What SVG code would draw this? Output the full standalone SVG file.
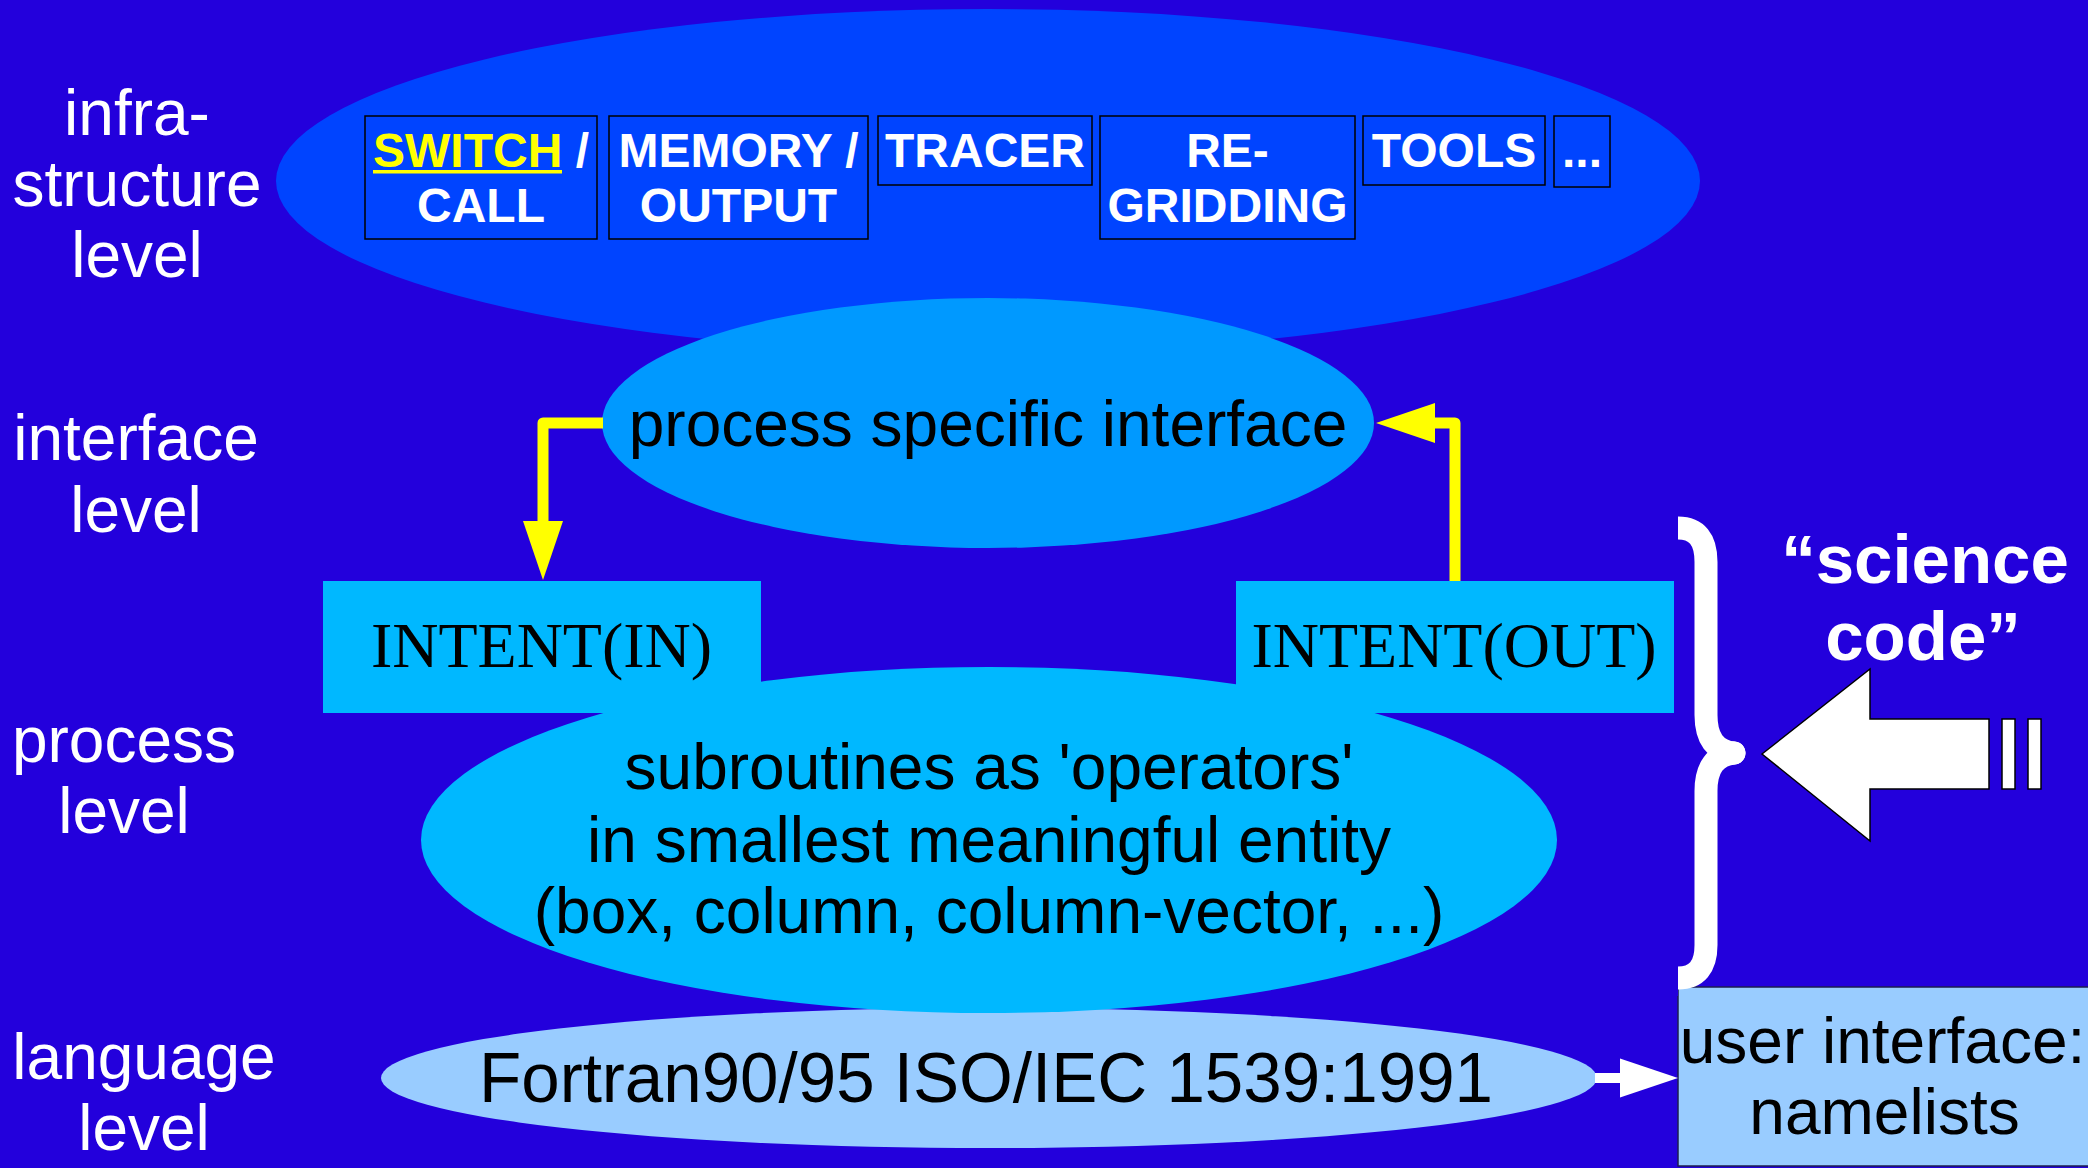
<svg xmlns="http://www.w3.org/2000/svg" width="2088" height="1168" viewBox="0 0 2088 1168">
  <defs>
    <style>
      .lbl { font-family: "Liberation Sans", Arial, sans-serif; font-size: 64px; fill: #ffffff; text-anchor: middle; }
      .big { font-size: 69px; font-weight: bold; }
      .tool { font-family: "Liberation Sans", Arial, sans-serif; font-size: 48px; font-weight: bold; fill: #ffffff; text-anchor: middle; }
      .toolbox { fill: #0044ff; stroke: #000000; stroke-width: 1.5; }
      .body { font-family: "Liberation Sans", Arial, sans-serif; font-size: 64px; fill: #000000; text-anchor: middle; }
      .lang { font-size: 70px; }
      .intent { font-family: "Liberation Serif", "Times New Roman", serif; font-size: 64px; fill: #000000; text-anchor: middle; }
      .ybar { fill: none; stroke: #ffff00; stroke-width: 11; stroke-linejoin: round; }
      .wbar { fill: none; stroke: #ffffff; stroke-width: 10; }
    </style>
    <marker id="yhead" markerUnits="userSpaceOnUse" markerWidth="60" markerHeight="40" refX="0" refY="20" orient="auto" overflow="visible">
      <path d="M0,0 L59,20 L0,40 Z" fill="#ffff00"/>
    </marker>
    <marker id="whead" markerUnits="userSpaceOnUse" markerWidth="60" markerHeight="40" refX="0" refY="19.5" orient="auto" overflow="visible">
      <path d="M0,0 L58,19.5 L0,39 Z" fill="#ffffff"/>
    </marker>
  </defs>

  <!-- background -->
  <rect x="0" y="0" width="2088" height="1168" fill="#2300dc"/>

  <!-- level captions on the left -->
  <g id="level-labels">
    <text class="lbl" x="137" y="135">infra-</text>
    <text class="lbl" x="137" y="206">structure</text>
    <text class="lbl" x="137" y="277">level</text>
    <text class="lbl" x="136" y="460">interface</text>
    <text class="lbl" x="136" y="532">level</text>
    <text class="lbl" x="124" y="762">process</text>
    <text class="lbl" x="124" y="833">level</text>
    <text class="lbl" x="144" y="1079">language</text>
    <text class="lbl" x="144" y="1150">level</text>
  </g>

  <!-- infrastructure level -->
  <g id="infrastructure">
    <ellipse cx="988" cy="181" rx="712" ry="172" fill="#0044ff"/>
    <g id="switch-call">
      <rect class="toolbox" x="365" y="116" width="232" height="123"/>
      <text class="tool" x="481" y="167"><tspan fill="#ffff00">SWITCH</tspan> /</text>
      <rect x="373" y="170" width="189" height="3.5" fill="#ffff00"/>
      <text class="tool" x="481" y="222">CALL</text>
    </g>
    <g id="memory-output">
      <rect class="toolbox" x="609" y="116" width="259" height="123"/>
      <text class="tool" x="738.5" y="167">MEMORY /</text>
      <text class="tool" x="738.5" y="222">OUTPUT</text>
    </g>
    <g id="tracer">
      <rect class="toolbox" x="878" y="116" width="214" height="69"/>
      <text class="tool" x="985" y="167">TRACER</text>
    </g>
    <g id="regridding">
      <rect class="toolbox" x="1100" y="116" width="255" height="123"/>
      <text class="tool" x="1227.5" y="167">RE-</text>
      <text class="tool" x="1227.5" y="222">GRIDDING</text>
    </g>
    <g id="tools">
      <rect class="toolbox" x="1363" y="116" width="182" height="69"/>
      <text class="tool" x="1454" y="167">TOOLS</text>
    </g>
    <g id="more-tools">
      <rect class="toolbox" x="1554" y="116" width="56" height="71"/>
      <text class="tool" x="1582" y="167">...</text>
    </g>
  </g>

  <!-- interface level -->
  <g id="interface">
    <ellipse cx="988" cy="423" rx="386" ry="125" fill="#0099ff"/>
    <text class="body" x="988" y="446">process specific interface</text>
  </g>

  <!-- language level -->
  <g id="language">
    <ellipse cx="989" cy="1078" rx="608" ry="70" fill="#99ccff"/>
    <text class="body lang" x="986" y="1102" textLength="1014" lengthAdjust="spacingAndGlyphs">Fortran90/95 ISO/IEC 1539:1991</text>
  </g>

  <!-- process level -->
  <g id="process">
    <ellipse cx="989" cy="840" rx="568" ry="173" fill="#00b8ff"/>
    <text class="body" x="989" y="789">subroutines as 'operators'</text>
    <text class="body" x="989" y="862">in smallest meaningful entity</text>
    <text class="body" x="989" y="933">(box, column, column-vector, ...)</text>
  </g>
  <g id="intent-in">
    <rect x="323" y="581" width="438" height="132" fill="#00b8ff"/>
    <text class="intent" x="541.5" y="667">INTENT(IN)</text>
  </g>
  <g id="intent-out">
    <rect x="1236" y="581" width="438" height="132" fill="#00b8ff"/>
    <text class="intent" x="1454" y="667">INTENT(OUT)</text>
  </g>

  <!-- user interface -->
  <g id="user-interface">
    <rect x="1678" y="987" width="411" height="179" fill="#99ccff" stroke="#1c1c50" stroke-width="1.5"/>
    <text class="body" x="1882.5" y="1063">user interface:</text>
    <text class="body" x="1884.5" y="1134">namelists</text>
  </g>

  <!-- "science code" brace and arrow -->
  <g id="science-code">
    <path d="M1678 528 Q1706 528 1706 562 L1706 715 Q1706 750 1734 753" fill="none" stroke="#ffffff" stroke-width="23" stroke-linecap="round"/>
    <path d="M1734 753 Q1706 756 1706 791 L1706 945 Q1706 978 1678 978" fill="none" stroke="#ffffff" stroke-width="23" stroke-linecap="round"/>
    <rect x="1666" y="510" width="12" height="40" fill="#2300dc"/>
    <rect x="1666" y="956" width="12" height="40" fill="#2300dc"/>
    <path d="M1762 754 L1870 669 L1870 719 L1989 719 L1989 789 L1870 789 L1870 841 Z" fill="#ffffff" stroke="#000000" stroke-width="1.5"/>
    <rect x="2002" y="719" width="13" height="70" fill="#ffffff" stroke="#000000" stroke-width="1.5"/>
    <rect x="2028" y="719" width="13" height="70" fill="#ffffff" stroke="#000000" stroke-width="1.5"/>
    <text class="lbl big" x="1925" y="583">“science</text>
    <text class="lbl big" x="1923" y="660">code”</text>
  </g>

  <!-- connectors -->
  <g id="connectors">
    <path class="ybar" d="M603 423 L543 423 L543 521" marker-end="url(#yhead)"/>
    <path class="ybar" d="M1455 581 L1455 423 L1435 423" marker-end="url(#yhead)"/>
    <path class="wbar" d="M1595 1078 L1620 1078" marker-end="url(#whead)"/>
  </g>
</svg>
